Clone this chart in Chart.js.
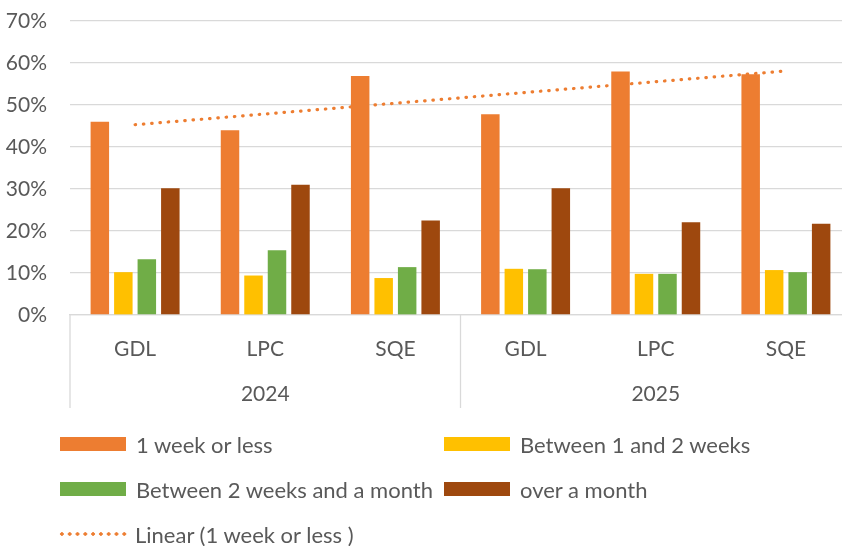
<!DOCTYPE html>
<html>
<head>
<meta charset="utf-8">
<script src="https://cdn.jsdelivr.net/npm/chart.js@4"></script>
<style>
  html, body { margin: 0; padding: 0; background: #fff; overflow: hidden; }
  #wrap { position: relative; width: 851px; height: 546px; }
  .item { position: absolute; display: flex; align-items: center; height: 30px; margin-top: -15px;
          font-family: Lato, sans-serif; font-size: 22px; color: #595959; white-space: nowrap; }
  .swatch { width: 66px; height: 14px; margin-right: 10px; }
  .dots { width: 70px; height: 4px; margin-right: 7px;
          background: radial-gradient(circle, #ED7D31 1.5px, transparent 2px) 0 0 / 7.8px 4px repeat-x; }
</style>
</head>
<body>
<div id="wrap"><canvas id="chart"></canvas></div>
<script>
'use strict';

// categories and series (percent)
const categories = ['GDL', 'LPC', 'SQE', 'GDL', 'LPC', 'SQE'];
const years = ['2024', '2025'];
const weekOrLess = [46.0, 44.0, 56.9, 47.8, 58.0, 57.3];
const oneToTwoWeeks = [10.2, 9.4, 8.8, 11.0, 9.8, 10.7];
const twoWeeksToMonth = [13.3, 15.4, 11.4, 10.9, 9.8, 10.2];
const overMonth = [30.2, 31.0, 22.5, 30.2, 22.1, 21.7];
// trendline end points
const trendLine = [45.3, null, null, null, null, 58.1];
const yMax = 70;
const yStep = 10;

const textColor = '#595959';
const gridColor = '#d9d9d9';
const font = { family: 'Lato, sans-serif', size: 21 };

// vertical separators under the axis (edges and between the years)
const separators = {
  id: 'separators',
  afterDraw(chart) {
    const ctx = chart.ctx;
    const x = chart.scales.x;
    const x2 = chart.scales.x2;
    const mid = (x.getPixelForTick(2) + x.getPixelForTick(3)) / 2;
    ctx.save();
    ctx.strokeStyle = gridColor;
    ctx.lineWidth = 1.3;
    [chart.chartArea.left, mid, chart.chartArea.right].forEach(px => {
      ctx.beginPath();
      ctx.moveTo(px, chart.chartArea.bottom);
      ctx.lineTo(px, x2.bottom);
      ctx.stroke();
    });
    ctx.restore();
  }
};

const bar = (label, data, color) => ({
  type: 'bar', label: label, data: data, backgroundColor: color, order: 1,
  categoryPercentage: 0.722, barPercentage: 0.787
});

const chart = new Chart(document.getElementById('chart'), {
  data: {
    labels: categories,
    datasets: [
      bar('1 week or less', weekOrLess, '#ED7D31'),
      bar('Between 1 and 2 weeks', oneToTwoWeeks, '#FFC000'),
      bar('Between 2 weeks and a month', twoWeeksToMonth, '#70AD47'),
      bar('over a month', overMonth, '#9E480E'),
      {
        type: 'line', label: 'Linear (1 week or less )', data: trendLine, spanGaps: true,
        borderColor: '#ED7D31', borderWidth: 3.2, borderDash: [0.5, 7.8], borderCapStyle: 'round',
        pointRadius: 0, fill: false, order: 10
      }
    ]
  },
  options: {
    responsive: true,
    maintainAspectRatio: false,
    animation: false,
    layout: { padding: { top: 21, left: 0, right: 0, bottom: 138 } },
    plugins: { legend: { display: false }, tooltip: { enabled: false } },
    scales: {
      x: {
        offset: true,
        grid: { display: false },
        border: { display: true, color: gridColor, width: 1.3 },
        ticks: { color: textColor, font: font, padding: 14, maxRotation: 0 },
        afterFit: s => { s.height = 47; }
      },
      x2: {
        type: 'category',
        labels: years,
        position: 'bottom',
        weight: 1,
        offset: true,
        grid: { display: false },
        border: { display: false },
        ticks: { color: textColor, font: font, padding: 12, maxRotation: 0 },
        afterFit: s => { s.height = 46; }
      },
      y: {
        min: 0, max: yMax,
        grid: { color: gridColor, lineWidth: 1.3, drawTicks: false },
        border: { display: false },
        ticks: { stepSize: yStep, color: textColor, font: font, padding: 23, callback: v => v + '%' },
        afterFit: s => { s.width = 70; s.paddingTop = 0; s.paddingBottom = 0; }
      }
    }
  },
  plugins: [separators]
});

// legend in two columns, built from the datasets
const colX = [60, 444];
const rowY = [444, 489, 534];
const wrap = document.getElementById('wrap');
chart.data.datasets.forEach((ds, i) => {
  const item = document.createElement('div');
  item.className = 'item';
  item.style.left = colX[i % 2] + 'px';
  item.style.top = rowY[Math.floor(i / 2)] + 'px';
  const sw = document.createElement('span');
  if (ds.type === 'line') {
    sw.className = 'dots';
    item.style.left = (colX[0] - 2) + 'px';
  } else {
    sw.className = 'swatch';
    sw.style.background = ds.backgroundColor;
  }
  item.appendChild(sw);
  item.appendChild(document.createTextNode(ds.label));
  wrap.appendChild(item);
});
</script>
</body>
</html>
